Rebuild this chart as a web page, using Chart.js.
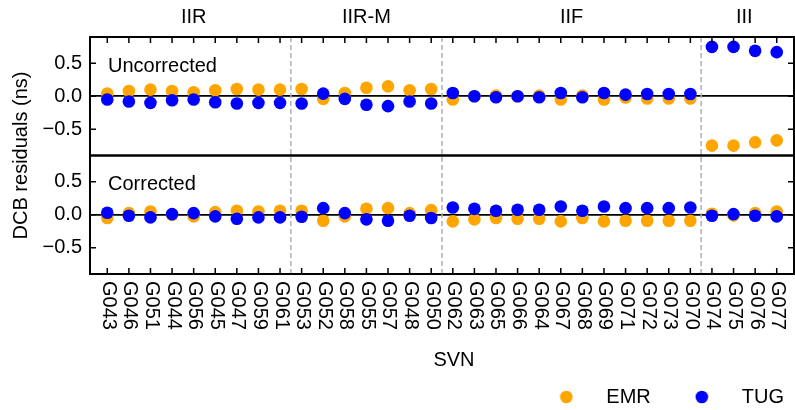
<!DOCTYPE html>
<html>
<head>
<meta charset="utf-8">
<title>DCB residuals</title>
<script src="https://cdn.jsdelivr.net/npm/chart.js@4.4.1/dist/chart.umd.min.js"></script>
<style>
  html, body { margin: 0; padding: 0; background: #fff; }
  #wrap { width: 795px; height: 410px; }
</style>
</head>
<body>
<div id="wrap"><canvas id="dcbChart" width="795" height="410"></canvas></div>
<script>
// satellites along the x axis, grouped by block
const svn = ['G043', 'G046', 'G051', 'G044', 'G056', 'G045', 'G047', 'G059', 'G061',
  'G053', 'G052', 'G058', 'G055', 'G057', 'G048', 'G050',
  'G062', 'G063', 'G065', 'G066', 'G064', 'G067', 'G068', 'G069', 'G071', 'G072', 'G073', 'G070',
  'G074', 'G075', 'G076', 'G077'];
const groupNames = ['IIR', 'IIR-M', 'IIF', 'III'];
const groupSizes = [9, 7, 12, 4];
const panelNames = ['Uncorrected', 'Corrected'];
const yTicks = [-0.5, 0, 0.5];

// DCB residuals (ns)
const emrUncorrected = [0.04, 0.08, 0.10, 0.08, 0.06, 0.09, 0.11, 0.10, 0.10,
  0.11, -0.04, 0.05, 0.13, 0.15, 0.09, 0.11,
  -0.05, 0.00, 0.01, 0.00, 0.01, -0.05, 0.01, -0.05, -0.02, -0.035, -0.035, -0.035,
  -0.75, -0.75, -0.70, -0.67];
const tugUncorrected = [-0.05, -0.08, -0.10, -0.06, -0.05, -0.09, -0.11, -0.10, -0.10,
  -0.11, 0.04, -0.04, -0.13, -0.15, -0.08, -0.11,
  0.05, 0.00, -0.015, 0.00, -0.015, 0.05, -0.015, 0.05, 0.025, 0.035, 0.035, 0.035,
  0.75, 0.75, 0.69, 0.67];
const emrCorrected = [-0.05, 0.025, 0.05, 0.00, -0.025, 0.04, 0.06, 0.05, 0.06,
  0.06, -0.09, -0.025, 0.09, 0.10, 0.025, 0.07,
  -0.10, -0.07, -0.05, -0.06, -0.06, -0.10, -0.05, -0.10, -0.09, -0.09, -0.09, -0.09,
  0.015, -0.01, 0.025, 0.05];
const tugCorrected = [0.03, -0.015, -0.04, 0.01, 0.025, -0.025, -0.06, -0.04, -0.04,
  -0.03, 0.10, 0.025, -0.07, -0.09, -0.015, -0.05,
  0.11, 0.09, 0.06, 0.075, 0.075, 0.125, 0.06, 0.125, 0.10, 0.10, 0.10, 0.11,
  -0.015, 0.01, -0.015, -0.025];

const ORANGE = '#ffa500';
const BLUE = '#0000ff';

Chart.defaults.font.family = 'Liberation Sans';
Chart.defaults.font.size = 20;
Chart.defaults.color = '#000';

// block boundaries and centres on the index axis
const groupEdges = [];
const groupCenters = [];
let start = 0;
groupSizes.forEach(function(n, i) {
  groupCenters.push(start + (n - 1) / 2);
  start += n;
  if (i < groupSizes.length - 1) groupEdges.push(start - 0.5);
});

function points(values) {
  return values.map(function(v, i) { return {x: i, y: v}; });
}

function fmt(v) {
  if (v === 0) return '0.0';
  return (v < 0 ? '\u2212' : '') + Math.abs(v).toFixed(1);
}

// small round marker used as legend symbol
function dot(color) {
  const c = document.createElement('canvas');
  c.width = 14;
  c.height = 14;
  const g = c.getContext('2d');
  g.fillStyle = color;
  g.beginPath();
  g.arc(7, 7, 6.3, 0, Math.PI * 2);
  g.fill();
  return c;
}

function series(label, values, color, yAxisID, order) {
  return {
    label: label,
    data: points(values),
    xAxisID: 'x',
    yAxisID: yAxisID,
    backgroundColor: color,
    borderColor: color,
    borderWidth: 0,
    pointRadius: 6.3,
    pointHoverRadius: 6.3,
    showLine: false,
    order: order
  };
}

function yPanel(weight) {
  return {
    type: 'linear',
    position: 'left',
    stack: 'panels',
    stackWeight: 1,
    weight: weight,
    min: -0.9,
    max: 0.9,
    afterBuildTicks: function(s) { s.ticks = yTicks.map(function(v) { return {value: v}; }); },
    afterFit: function(s) { s.width = 58; },
    ticks: { padding: 8, callback: fmt },
    grid: {
      drawTicks: false,
      lineWidth: 1.8,
      color: function(c) { return c.tick && c.tick.value === 0 ? '#000' : 'rgba(0,0,0,0)'; }
    },
    border: { display: false }
  };
}

// dashed block separators, frames, inward ticks, block names and rotated SVN labels
const panelPlugin = {
  id: 'panelPlugin',
  beforeDatasetsDraw: function(chart) {
    const ctx = chart.ctx;
    const area = chart.chartArea;
    ctx.save();
    ctx.strokeStyle = '#b0b0b0';
    ctx.lineWidth = 1.5;
    ctx.setLineDash([5, 3]);
    groupEdges.forEach(function(v) {
      const px = chart.scales.x.getPixelForValue(v);
      ctx.beginPath();
      ctx.moveTo(px, area.top);
      ctx.lineTo(px, area.bottom);
      ctx.stroke();
    });
    ctx.restore();
  },
  afterDraw: function(chart) {
    const ctx = chart.ctx;
    const area = chart.chartArea;
    const x = chart.scales.x;
    const panels = [chart.scales.yU, chart.scales.yC];
    ctx.save();
    ctx.strokeStyle = '#000';
    ctx.lineWidth = 1.5;
    ctx.beginPath();
    svn.forEach(function(name, i) {
      const px = x.getPixelForValue(i);
      ctx.moveTo(px, area.top);
      ctx.lineTo(px, area.top + 6);
      ctx.moveTo(px, area.bottom);
      ctx.lineTo(px, area.bottom - 6);
    });
    panels.forEach(function(s) {
      yTicks.forEach(function(v) {
        const py = s.getPixelForValue(v);
        ctx.moveTo(area.left, py);
        ctx.lineTo(area.left + 6, py);
        ctx.moveTo(area.right, py);
        ctx.lineTo(area.right - 6, py);
      });
    });
    ctx.stroke();

    ctx.lineWidth = 2;
    panels.forEach(function(s) {
      ctx.strokeRect(area.left, s.top, area.right - area.left, s.bottom - s.top);
    });

    ctx.fillStyle = '#000';
    ctx.font = '20px "Liberation Sans"';
    ctx.textBaseline = 'middle';
    ctx.textAlign = 'left';
    panelNames.forEach(function(name, k) {
      ctx.fillText(name, area.left + 18, panels[k].top + 29);
    });

    svn.forEach(function(name, i) {
      ctx.save();
      ctx.translate(x.getPixelForValue(i) + 1, area.bottom + 7);
      ctx.rotate(Math.PI / 2);
      ctx.fillText(name, 0, 0);
      ctx.restore();
    });

    ctx.textAlign = 'center';
    groupNames.forEach(function(name, k) {
      ctx.fillText(name, x.getPixelForValue(groupCenters[k]), area.top - 20);
    });
    ctx.fillText('SVN', (area.left + area.right) / 2 + 12, 360);
    ctx.restore();
  }
};

const ctx = document.getElementById('dcbChart').getContext('2d');

new Chart(ctx, {
  type: 'scatter',
  data: {
    datasets: [
      series('EMR', emrUncorrected, ORANGE, 'yU', 1),
      series('TUG', tugUncorrected, BLUE, 'yU', 0),
      series('EMR', emrCorrected, ORANGE, 'yC', 1),
      series('TUG', tugCorrected, BLUE, 'yC', 0)
    ]
  },
  options: {
    responsive: false,
    animation: false,
    events: [],
    layout: { autoPadding: false, padding: { left: 0, right: -10, top: 37, bottom: -7 } },
    scales: {
      x: {
        type: 'linear',
        position: 'bottom',
        min: -0.8,
        max: 31.8,
        afterBuildTicks: function(s) { s.ticks = svn.map(function(n, i) { return {value: i}; }); },
        afterFit: function(s) { s.height = 92; },
        ticks: { display: false },
        grid: { display: false },
        border: { display: false }
      },
      yt: {
        type: 'linear',
        position: 'left',
        weight: 10,
        afterFit: function(s) { s.width = 32; },
        ticks: { display: false },
        grid: { display: false },
        border: { display: false },
        title: {
          display: true,
          text: 'DCB residuals (ns)',
          font: { size: 20 },
          padding: { top: 9, bottom: 0 }
        }
      },
      yr: {
        type: 'linear',
        position: 'right',
        afterFit: function(s) { s.width = 11; },
        ticks: { display: false },
        grid: { display: false },
        border: { display: false }
      },
      yU: yPanel(2),
      yC: yPanel(1)
    },
    plugins: {
      tooltip: { enabled: false },
      legend: {
        position: 'bottom',
        align: 'end',
        labels: {
          usePointStyle: true,
          pointStyleWidth: 60,
          padding: 21,
          font: { size: 20 },
          generateLabels: function(chart) {
            return Chart.defaults.plugins.legend.labels.generateLabels(chart)
              .filter(function(it) { return it.datasetIndex < 2; })
              .sort(function(a, b) { return a.datasetIndex - b.datasetIndex; })
              .map(function(it) { it.pointStyle = dot(it.fillStyle); return it; });
          }
        }
      }
    }
  },
  plugins: [panelPlugin]
});
</script>
</body>
</html>
